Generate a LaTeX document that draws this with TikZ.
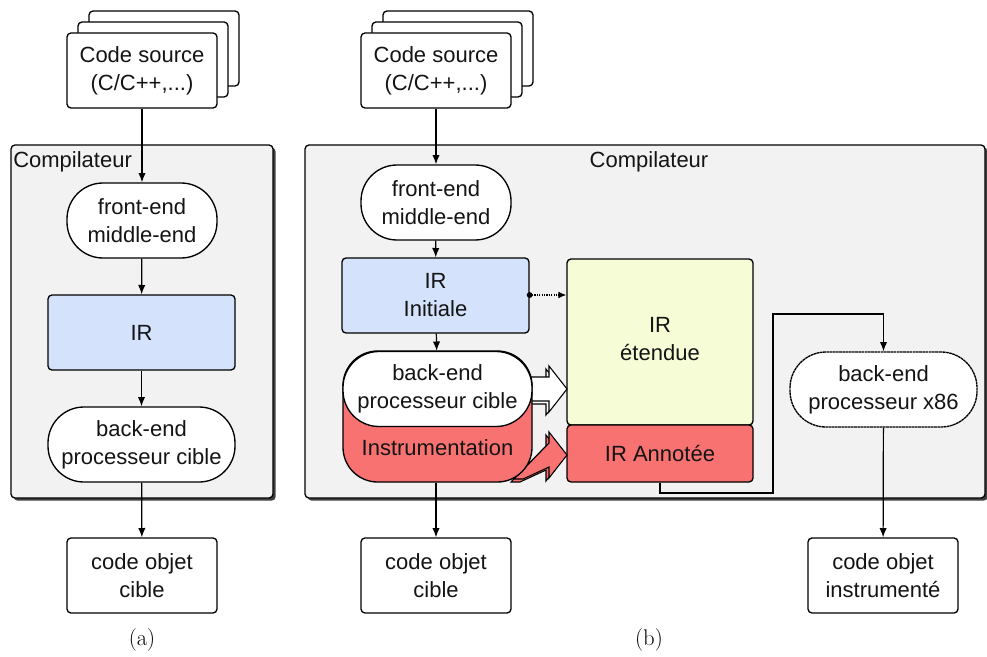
\documentclass[tikz,border=0pt]{standalone}
\usepackage{fontspec}
\newfontfamily\hv{Liberation Sans}
\usetikzlibrary{arrows.meta,shadows,shapes.misc}
\definecolor{compgray}{HTML}{F2F2F2}
\definecolor{irblue}{HTML}{D4E2FC}
\definecolor{iryellow}{HTML}{F5FCD6}
\definecolor{irred}{HTML}{F87272}
\tikzset{
  txt/.style={font=\hv\fontsize{16.5}{21}\selectfont, align=center, text=black!92},
  boxbase/.style={txt, draw=black, line width=1pt, inner sep=0pt},
  docbox/.style={boxbase, fill=white, rounded corners=3pt, minimum width=112.5pt, minimum height=56.25pt},
  pill/.style={boxbase, fill=white, rounded corners=27pt, minimum height=56.25pt},
  irbox/.style={boxbase, rounded corners=3pt, minimum height=56.25pt},
  compbox/.style={draw=black, line width=1pt, fill=compgray, rounded corners=3pt, inner sep=0pt,
     drop shadow={shadow xshift=2pt, shadow yshift=-2pt, fill=black!75, opacity=1}},
  arr/.style={line width=0.9pt, -{Latex[length=7pt,width=5.5pt]}},
  sublabel/.style={font=\fontsize{17}{20}\selectfont}
}
\begin{document}
\begin{tikzpicture}[x=0.75pt,y=-0.75pt]
\useasboundingbox (0,0) rectangle (987,656);
% ---------------- (a) ----------------
\node[compbox, minimum width=196.5pt, minimum height=264.75pt] (compA) at (142,321.5) {};
\node[txt, anchor=west, inner sep=0pt] (compAl) at (13,162) {Compilateur};
\node[docbox] (srcA3) at (164,48.5) {};
\node[docbox] (srcA2) at (153,59.5) {};
\node[docbox] (srcA) at (142,70.5) {Code source\\(C/C++,...)};
\node[pill, minimum width=112.5pt] (feA) at (142,220.5) {front-end\\middle-end};
\node[irbox, fill=irblue, minimum width=140.25pt] (irA) at (141.5,332.5) {IR};
\node[pill, minimum width=140.25pt] (beA) at (141.5,444.5) {back-end\\processeur cible};
\node[docbox] (objA) at (142,575.5) {code objet\\cible};
\node[sublabel] (labA) at (142,640) {(a)};
\draw[arr] (srcA) -- (feA);
\draw[arr] (feA) -- (irA);
\draw[arr] (irA) -- (beA);
\draw[arr] (beA) -- (objA);
% ---------------- (b) ----------------
\node[compbox, minimum width=510pt, minimum height=264.75pt] (compB) at (645,321.5) {};
\node[txt, inner sep=0pt] (compBl) at (649,162) {Compilateur};
\node[docbox] (srcB3) at (458,48.5) {};
\node[docbox] (srcB2) at (447,59.5) {};
\node[docbox] (srcB) at (436,70.5) {Code source\\(C/C++,...)};
\node[pill, minimum width=112.5pt] (feB) at (436,202.5) {front-end\\middle-end};
\node[irbox, fill=irblue, minimum width=140.25pt] (irI) at (435.5,295.5) {IR\\Initiale};
\node[irbox, fill=iryellow, minimum width=139.5pt, minimum height=124.5pt] (irE) at (660,342) {};
\node[txt] (irEt) at (660,339) {IR\\étendue};
\node[irbox, fill=irred, minimum width=139.5pt, minimum height=42.75pt] (irAn) at (660,453.5) {IR Annotée};
% big arrows (drawn as shapes)
\draw[line width=0.8pt, fill=white] (524,380) -- (546,380) -- (546,369) -- (564,392) -- (546,415) -- (546,404) -- (524,404) -- cycle;
\draw[line width=0.8pt, fill=white] (527,377) -- (549,377) -- (549,366) -- (567,389) -- (549,412) -- (549,401) -- (527,401) -- cycle;
\draw[line width=0.8pt, fill=irred] (511,482) -- (546,446) -- (546,435) -- (564,458) -- (546,481) -- (546,470) -- (520,482) -- cycle;
\draw[line width=0.8pt, fill=irred] (514,479) -- (549,443) -- (549,432) -- (567,455) -- (549,478) -- (549,467) -- (523,479) -- cycle;
% back-end group
\node[boxbase, fill=irred, rounded corners=26pt, minimum width=141.75pt, minimum height=98.25pt] (beRed) at (437.5,416.5) {};
\node[txt] (instr) at (437.5,448) {Instrumentation};
\node[pill, minimum width=141.75pt] (beB) at (437.5,389) {back-end\\processeur cible};
\node[docbox] (objB) at (436,575.5) {code objet\\cible};
% right back-end
\node[pill, minimum width=140.25pt, dash pattern=on 2pt off 0.4pt] (beR) at (883.5,389.5) {back-end\\processeur x86};
\node[docbox] (objR) at (883,575.5) {code objet\\instrumenté};
\node[sublabel] (labB) at (649,640) {(b)};
% connectors
\draw[arr] (srcB) -- (feB);
\draw[arr] (feB) -- (irI);
\draw[arr] (irI) -- (beB);
\draw[arr] (beRed.south -| objB.north) -- (objB);
\coordinate (dotS) at (irI.east |- 0,295);
\fill (dotS) circle (2.2pt);
\draw[line width=0.8pt, densely dotted, -{Latex[length=6pt,width=5pt]}] (dotS) -- (irE.west |- dotS);
\coordinate (c1) at (773,493);
\coordinate (c2) at (773,314);
\draw[arr] (irAn.south) |- (c1) -- (c2) -| (beR.north);
\draw[arr] (beR) -- (objR);
\end{tikzpicture}
\end{document}
